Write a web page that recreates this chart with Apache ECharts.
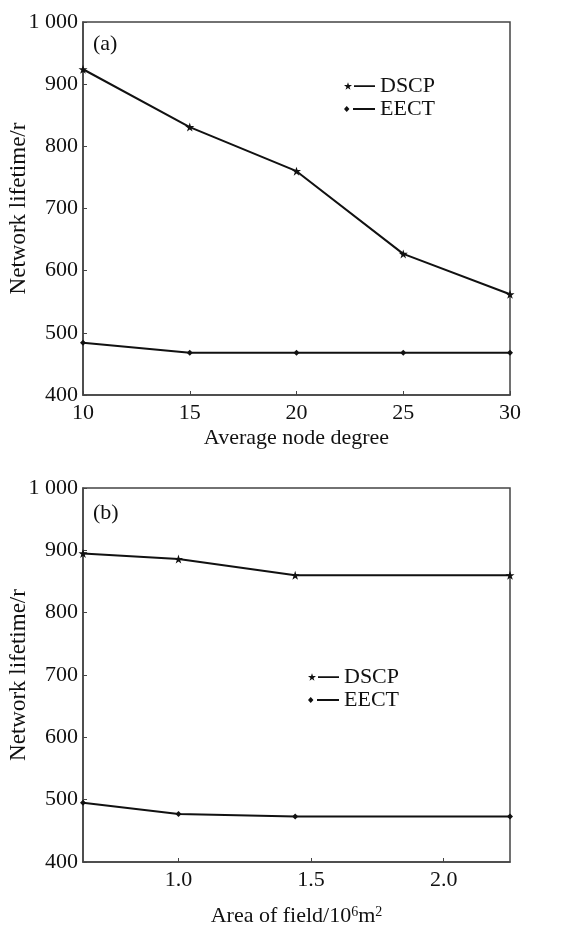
<!DOCTYPE html>
<html>
<head>
<meta charset="utf-8">
<script src="https://cdn.jsdelivr.net/npm/echarts@6/dist/echarts.min.js"></script>
<style>
  html, body { margin: 0; padding: 0; background: #fff; }
  #chart { width: 569px; height: 926px; }
</style>
</head>
<body>
<div id="chart"></div>
<script>
// (a) 平均节点度
const degree = [10, 15, 20, 25, 30];
const dscpDegree = [924, 831, 760, 627, 562];
const eectDegree = [484, 468, 468, 468, 468];

// (b) 区域面积 /10^6 m^2
const area = [0.64, 1.0, 1.44, 2.25];
const dscpArea = [895, 886, 860, 860];
const eectArea = [495, 477, 473, 473];
const areaTicks = [1.0, 1.5, 2.0];

const seriesNames = ['DSCP', 'EECT'];

const font = 'Liberation Serif';
const ink = '#111';
const axisCol = '#444';

const starSym = 'path://M5,0L6.2,3.6L10,3.6L6.9,5.9L8.1,9.5L5,7.3L1.9,9.5L3.1,5.9L0,3.6L3.8,3.6Z';
const dotSym = 'path://M5,0L10,5L5,10L0,5Z';
// 图例图标：符号 + 短线
const starIcon = 'path://M4,0L4.96,2.88L8,2.88L5.52,4.72L6.48,7.6L4,5.84L1.52,7.6L2.48,4.72L0,2.88L3.04,2.88Z M10,3L31,3L31,4.8L10,4.8Z';
const dotIcon = 'path://M4,1L6.6,3.9L4,6.8L1.4,3.9Z M10,3L31,3L31,4.8L10,4.8Z';

const pairs = (xs, ys) => xs.map((x, i) => [x, ys[i]]);

const chart = echarts.init(document.getElementById('chart'));

const yAxisBase = (gridIndex) => ({
  type: 'value',
  gridIndex,
  min: 400,
  max: 1000,
  interval: 100,
  name: 'Network lifetime/r',
  nameLocation: 'middle',
  nameGap: 53,
  nameMoveOverlap: false,
  nameTextStyle: { fontFamily: font, fontSize: 23, color: ink },
  axisLine: { show: true, lineStyle: { color: axisCol, width: 1.5 } },
  axisTick: { show: true, inside: true, length: 4, lineStyle: { color: axisCol } },
  axisLabel: {
    fontFamily: font, fontSize: 22, color: ink, margin: 5,
    formatter: v => v === 1000 ? '1 000' : String(v)
  },
  splitLine: { show: false }
});

const lineSeries = (name, data, xi, sym, size) => ({
  name,
  type: 'line',
  xAxisIndex: xi,
  yAxisIndex: xi,
  data,
  symbol: sym,
  symbolSize: size,
  showAllSymbol: true,
  lineStyle: { color: ink, width: 2 },
  itemStyle: { color: ink },
  emphasis: { disabled: true },
  animation: false
});

const legendBase = (left, top) => ({
  orient: 'vertical', left, top, itemGap: 1,
  itemWidth: 31, itemHeight: 7.6, symbolKeepAspect: true,
  textStyle: { fontFamily: font, fontSize: 22, color: ink, lineHeight: 22 },
  data: [{ name: seriesNames[0], icon: starIcon }, { name: seriesNames[1], icon: dotIcon }],
  selectedMode: false
});

const option = {
  backgroundColor: '#fff',
  animation: false,
  title: [
    { text: '(a)', left: 88, top: 28, textStyle: { fontFamily: font, fontSize: 22, fontWeight: 'normal', color: ink } },
    { text: '(b)', left: 88, top: 497, textStyle: { fontFamily: font, fontSize: 22, fontWeight: 'normal', color: ink } }
  ],
  legend: [legendBase(339, 70), legendBase(303, 661)],
  grid: [
    { left: 83, width: 427, top: 22, height: 373, outerBoundsMode: 'none', containLabel: false,
      show: true, borderColor: axisCol, borderWidth: 1.5 },
    { left: 83, width: 427, top: 488, height: 374, outerBoundsMode: 'none', containLabel: false,
      show: true, borderColor: axisCol, borderWidth: 1.5 }
  ],
  xAxis: [
    {
      type: 'value', gridIndex: 0, min: 10, max: 30, interval: 5,
      name: 'Average node degree', nameLocation: 'middle', nameGap: 32, nameMoveOverlap: false,
      nameTextStyle: { fontFamily: font, fontSize: 22, color: ink },
      axisLine: { show: true, lineStyle: { color: axisCol, width: 1.5 } },
      axisTick: { show: true, inside: true, length: 4, lineStyle: { color: axisCol } },
      axisLabel: { fontFamily: font, fontSize: 22, color: ink, margin: 7 },
      splitLine: { show: false }
    },
    {
      type: 'value', gridIndex: 1, min: 0.64, max: 2.25,
      name: 'Area of field/10{sup|6}m{sup|2}', nameLocation: 'middle', nameGap: 43, nameMoveOverlap: false,
      nameTextStyle: {
        fontFamily: font, fontSize: 22, color: ink,
        rich: { sup: { fontFamily: font, fontSize: 14, color: ink, verticalAlign: 'top', lineHeight: 22 } }
      },
      axisLine: { show: true, lineStyle: { color: axisCol, width: 1.5 } },
      axisTick: { show: true, inside: true, length: 4, lineStyle: { color: axisCol }, customValues: areaTicks },
      axisLabel: {
        fontFamily: font, fontSize: 22, color: ink, margin: 7,
        customValues: areaTicks, formatter: v => v.toFixed(1)
      },
      splitLine: { show: false }
    }
  ],
  yAxis: [yAxisBase(0), yAxisBase(1)],
  series: [
    lineSeries(seriesNames[0], pairs(degree, dscpDegree), 0, starSym, 9),
    lineSeries(seriesNames[1], pairs(degree, eectDegree), 0, dotSym, 6),
    lineSeries(seriesNames[0], pairs(area, dscpArea), 1, starSym, 9),
    lineSeries(seriesNames[1], pairs(area, eectArea), 1, dotSym, 6)
  ]
};

chart.setOption(option);
window.addEventListener('resize', () => chart.resize());
</script>
</body>
</html>
